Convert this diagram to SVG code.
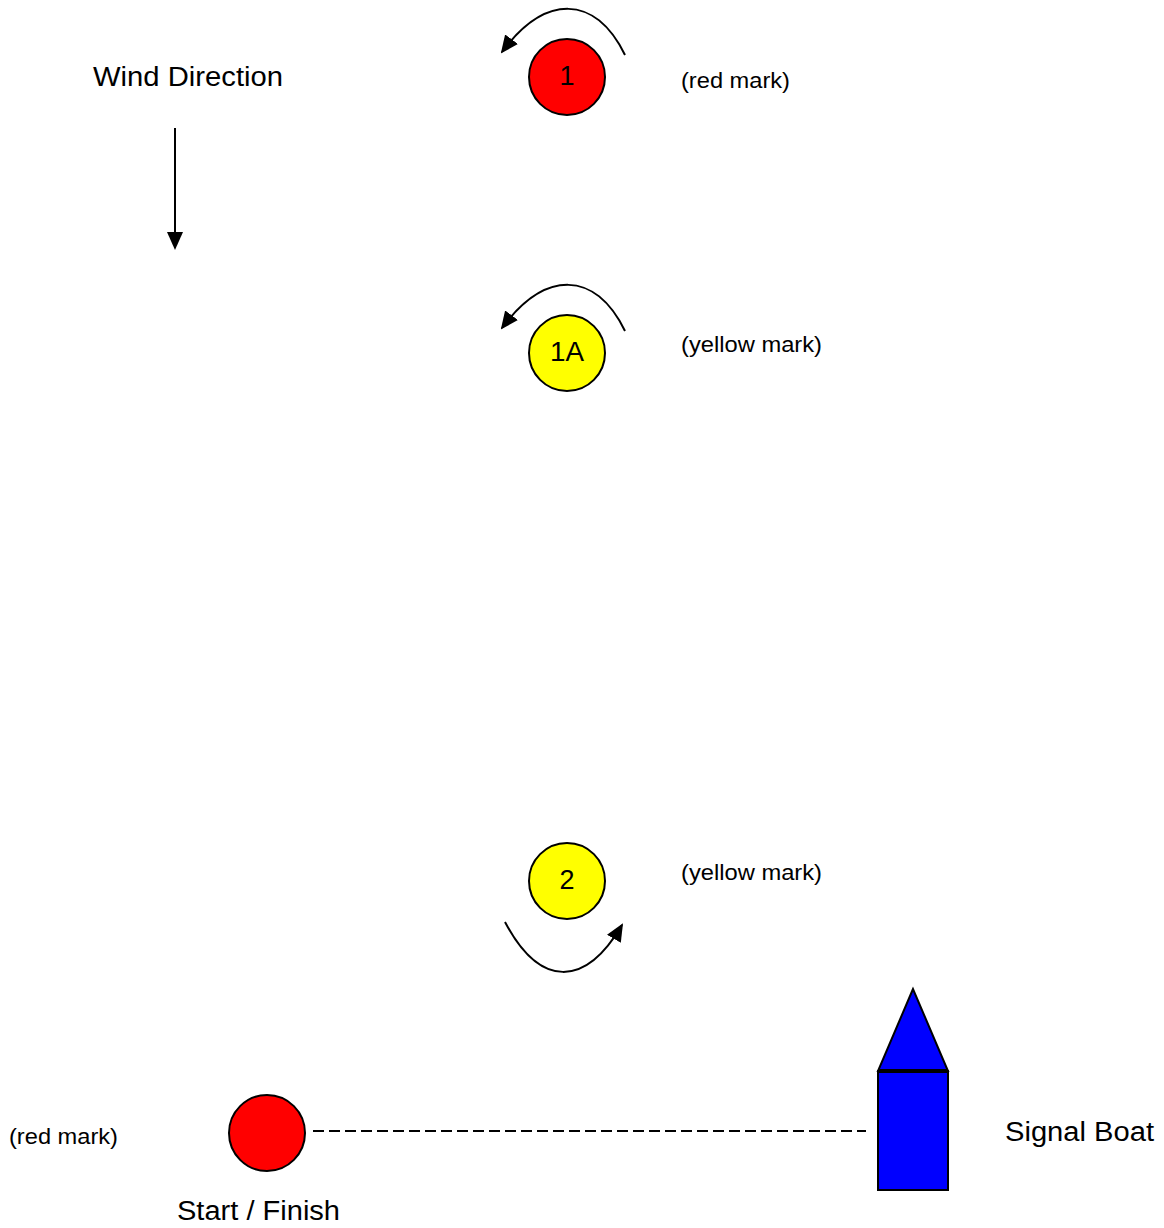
<svg xmlns="http://www.w3.org/2000/svg" width="1164" height="1228" viewBox="0 0 1164 1228">
<style>
text{font-family:"Liberation Sans",Arial,sans-serif;fill:#000}
.big{font-size:27px}
.small{font-size:22px}
.mark{stroke:#000;stroke-width:2}
.curve{fill:none;stroke:#000;stroke-width:2}
</style>
<defs>
<marker id="ah2" markerWidth="18" markerHeight="18" refX="16" refY="9" orient="auto" markerUnits="userSpaceOnUse" viewBox="0 0 18 18">
<path d="M0,1 L18,9 L0,17 z" fill="#000"/>
</marker>
</defs>
<g id="wind">
<text class="big" x="93" y="86" textLength="190" lengthAdjust="spacingAndGlyphs">Wind Direction</text>
</g>
<g id="mark1">
<circle class="mark" cx="567" cy="77" r="38" fill="#ff0000"/>
<text class="big" x="567" y="85" text-anchor="middle">1</text>
<text class="small" x="681" y="88" textLength="109" lengthAdjust="spacingAndGlyphs">(red mark)</text>
</g>
<g id="mark1A">
<circle class="mark" cx="567" cy="353" r="38" fill="#ffff00"/>
<text class="big" x="567" y="361" text-anchor="middle" textLength="34" lengthAdjust="spacingAndGlyphs">1A</text>
<text class="small" x="681" y="352" textLength="141" lengthAdjust="spacingAndGlyphs">(yellow mark)</text>
</g>
<g id="mark2">
<circle class="mark" cx="567" cy="881" r="38" fill="#ffff00"/>
<text class="big" x="567" y="889" text-anchor="middle">2</text>
<text class="small" x="681" y="880" textLength="141" lengthAdjust="spacingAndGlyphs">(yellow mark)</text>
</g>
<g id="start">
<circle class="mark" cx="267" cy="1133" r="38" fill="#ff0000"/>
<text class="small" x="9" y="1144" textLength="109" lengthAdjust="spacingAndGlyphs">(red mark)</text>
<text class="big" x="177" y="1220" textLength="163" lengthAdjust="spacingAndGlyphs">Start / Finish</text>
</g>
<g id="signalboat">
<polygon points="913,989 878,1071 948,1071" fill="#0000ff" stroke="#000" stroke-width="2"/>
<rect x="878" y="1071" width="70" height="119" fill="#0000ff" stroke="#000" stroke-width="2"/>
<line x1="878" y1="1071" x2="948" y2="1071" stroke="#000" stroke-width="4"/>
<text class="big" x="1005" y="1141" textLength="149" lengthAdjust="spacingAndGlyphs">Signal Boat</text>
</g>
<g id="connectors">
<line x1="175" y1="128" x2="175" y2="248" stroke="#000" stroke-width="2" marker-end="url(#ah2)"/>
<path class="curve" d="M625,55 C595,-6 545,-6 502,52" marker-end="url(#ah2)"/>
<path class="curve" d="M625,331 C595,270 545,270 502,328" marker-end="url(#ah2)"/>
<path class="curve" d="M505,922 C540,988 585,988 622,925" marker-end="url(#ah2)"/>
<line x1="313" y1="1131" x2="866" y2="1131" stroke="#000" stroke-width="2" stroke-dasharray="11,5"/>
</g>
</svg>
